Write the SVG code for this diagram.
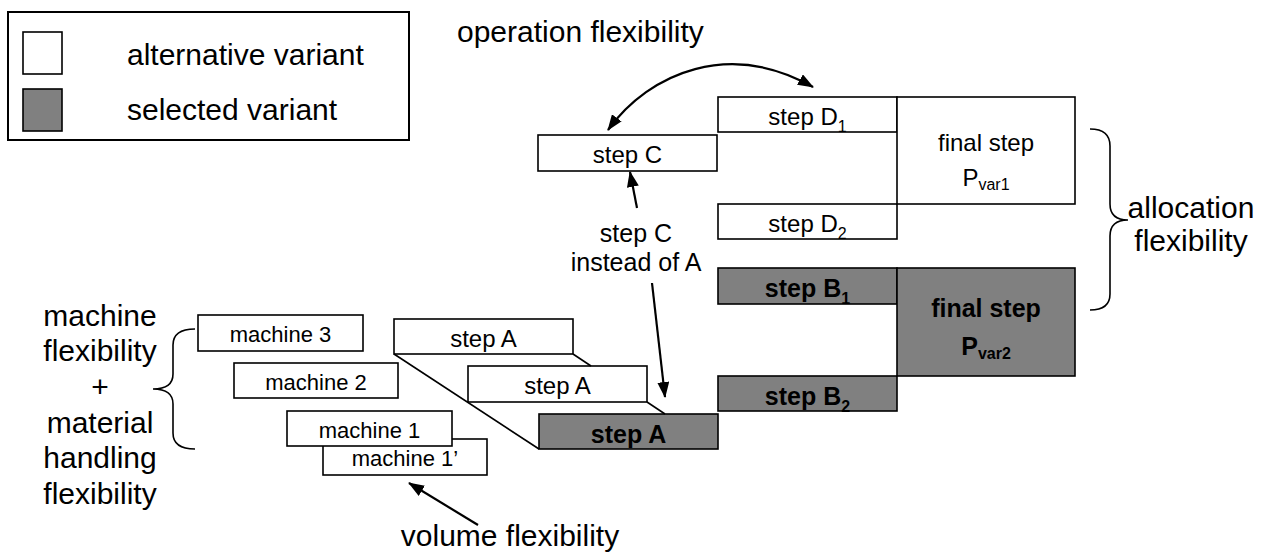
<svg xmlns="http://www.w3.org/2000/svg" width="1263" height="554" viewBox="0 0 1263 554">
<defs>
<style>
text{font-family:"Liberation Sans",Arial,sans-serif;fill:#000}
.alt{fill:#fff;stroke:#000;stroke-width:1.6}
.sel{fill:#808080;stroke:#000;stroke-width:1.6}
.big{font-size:30px}
.lbl{font-size:30px;text-anchor:middle}
.box{font-size:24px;text-anchor:middle}
.mach{font-size:22px;text-anchor:middle}
.bold{font-weight:bold;font-size:25px}
.sub{font-size:16px}
.ln{stroke:#000;stroke-width:1.6;fill:none}
.arr{stroke:#000;stroke-width:2.2;fill:none}
</style>
<marker id="ah" viewBox="0 0 16 12" refX="15" refY="6" markerWidth="16" markerHeight="12" markerUnits="userSpaceOnUse" orient="auto-start-reverse">
<path d="M0,0 L16,6 L0,12 z" fill="#000"/>
</marker>
</defs>
<rect width="1263" height="554" fill="#fff"/>

<g id="legend">
<rect x="8" y="12" width="401" height="128" fill="#fff" stroke="#000" stroke-width="2"/>
<rect class="alt" x="23" y="32" width="39" height="42"/>
<rect class="sel" x="23" y="89" width="39" height="42"/>
<text class="big" x="127" y="65">alternative variant</text>
<text class="big" x="127" y="120">selected variant</text>
</g>

<g id="labels">
<text class="big" x="457" y="42">operation flexibility</text>
<text class="lbl" x="1191" y="218">allocation</text>
<text class="lbl" x="1191" y="251">flexibility</text>
<text class="lbl" x="100" y="326">machine</text>
<text class="lbl" x="100" y="361">flexibility</text>
<text class="lbl" x="100" y="397">+</text>
<text class="lbl" x="100" y="433">material</text>
<text class="lbl" x="100" y="468">handling</text>
<text class="lbl" x="100" y="504">flexibility</text>
<text class="lbl" x="510" y="546">volume flexibility</text>
<text style="font-size:25px;text-anchor:middle" x="636" y="242">step C</text>
<text style="font-size:25px;text-anchor:middle" x="636" y="271">instead of A</text>
</g>

<g id="stepC">
<rect class="alt" x="538" y="135" width="179" height="36"/>
<text class="box" x="627.5" y="163">step C</text>
</g>
<g id="stepD1">
<rect class="alt" x="718" y="97" width="179" height="35"/>
<text class="box" x="807.5" y="125">step D<tspan class="sub" dy="7">1</tspan></text>
</g>
<g id="stepD2">
<rect class="alt" x="718" y="204" width="179" height="35"/>
<text class="box" x="807.5" y="232">step D<tspan class="sub" dy="7">2</tspan></text>
</g>
<g id="finalP1">
<rect class="alt" x="897" y="97" width="178" height="107"/>
<text class="box" x="986" y="151">final step</text>
<text class="box" x="986" y="186">P<tspan class="sub" dy="4">var1</tspan></text>
</g>
<g id="stepB1">
<rect class="sel" x="718" y="268" width="179" height="36"/>
<text class="box bold" x="807.5" y="297">step B<tspan class="sub" dy="7">1</tspan></text>
</g>
<g id="stepB2">
<rect class="sel" x="718" y="376" width="179" height="35"/>
<text class="box bold" x="807.5" y="405">step B<tspan class="sub" dy="7">2</tspan></text>
</g>
<g id="finalP2">
<rect class="sel" x="897" y="268" width="178" height="108"/>
<text class="box bold" x="986" y="317">final step</text>
<text class="box bold" x="986" y="355">P<tspan class="sub" dy="4">var2</tspan></text>
</g>

<g id="stepA3">
<rect class="alt" x="394" y="319" width="179" height="35"/>
<text class="box" x="483.5" y="347">step A</text>
</g>
<g id="stepA2">
<rect class="alt" x="468" y="366" width="179" height="36"/>
<text class="box" x="557.5" y="394">step A</text>
</g>
<g id="stepA1">
<rect class="sel" x="539" y="414" width="179" height="35"/>
<text class="box bold" x="628.5" y="443">step A</text>
</g>

<g id="machine3">
<rect class="alt" x="198" y="315" width="165" height="36"/>
<text class="mach" x="280.5" y="342">machine 3</text>
</g>
<g id="machine2">
<rect class="alt" x="234" y="363" width="164" height="35"/>
<text class="mach" x="316" y="390">machine 2</text>
</g>
<g id="machine1b">
<rect class="alt" x="323" y="439" width="164" height="36"/>
<text class="mach" x="405" y="466">machine 1’</text>
</g>
<g id="machine1">
<rect class="alt" x="287" y="411" width="165" height="35"/>
<text class="mach" x="369.5" y="438">machine 1</text>
</g>

<g id="connectors">
<path class="ln" d="M394,354 L539,449"/>
<path class="ln" d="M573,354 L591,366"/>
<path class="ln" d="M647,402 L665,414"/>
<path class="ln" d="M1090,129 Q1110,129 1110,146 L1110,204 Q1110,220 1128,220 Q1110,220 1110,236 L1110,294 Q1110,310 1090,310"/>
<path class="ln" d="M195,329 Q173,329 173,345 L173,374 Q173,389 153,389 Q173,389 173,404 L173,433 Q173,449 195,449"/>
<path class="arr" d="M608,130 C650,72 730,40 813,87" marker-start="url(#ah)" marker-end="url(#ah)"/>
<path class="arr" d="M637,208 L630,172" marker-end="url(#ah)"/>
<path class="arr" d="M652,283 L665,397" marker-end="url(#ah)"/>
<path class="arr" d="M478,525 L409,483" marker-end="url(#ah)"/>
</g>
</svg>
